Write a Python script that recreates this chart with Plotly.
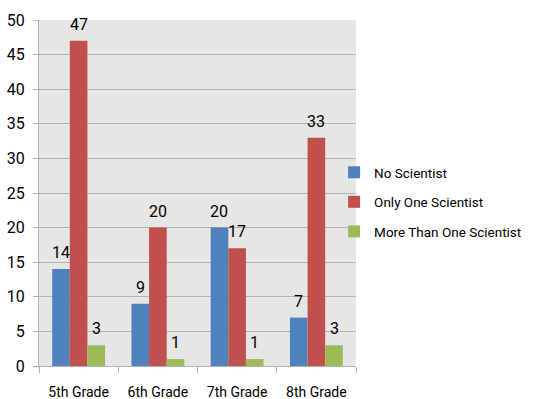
import plotly.graph_objects as go

grades = ["5th Grade", "6th Grade", "7th Grade", "8th Grade"]
no_scientist = [14, 9, 20, 7]
only_one = [47, 20, 17, 33]
more_than_one = [3, 1, 1, 3]

series = [
    ("No Scientist", no_scientist, "#4f81bd"),
    ("Only One Scientist", only_one, "#c0504d"),
    ("More Than One Scientist", more_than_one, "#9bbb59"),
]

FONT = "Roboto, Liberation Sans, sans-serif"

W, H = 538, 399
ML, MR, MT, MB = 39, 181, 20, 33
BARGAP = 0.333

plot_w = W - ML - MR
bar_px = plot_w / len(grades) * (1 - BARGAP) / len(series)

fig = go.Figure()
annotations = []
for i, (name, vals, color) in enumerate(series):
    fig.add_trace(go.Bar(
        x=grades, y=vals, name=name, legendgroup=name,
        marker=dict(color=color, line=dict(width=0)),
    ))
    # value labels centred over each bar of this series
    shift = (i - (len(series) - 1) / 2) * bar_px
    for g, v in zip(grades, vals):
        annotations.append(dict(
            x=g, y=v, xref="x", yref="y", text=str(v),
            showarrow=False, xanchor="center", yanchor="bottom",
            xshift=shift, yshift=5,
            font=dict(size=16, color="#000000", family=FONT),
        ))

fig.update_layout(
    width=W, height=H,
    margin=dict(l=ML, r=MR, t=MT, b=MB),
    paper_bgcolor="white",
    plot_bgcolor="#e6e6e6",
    barmode="group",
    bargap=BARGAP,
    bargroupgap=0,
    font=dict(family=FONT, size=14, color="#000000"),
    showlegend=True,
    legend=dict(
        x=0.928, y=0.474, xanchor="left", yanchor="middle",
        font=dict(size=13.5, family=FONT),
        itemwidth=30, tracegroupgap=9,
        bgcolor="rgba(0,0,0,0)",
    ),
    annotations=annotations,
)
fig.update_yaxes(
    range=[0, 50], dtick=5, automargin=False,
    showgrid=True, gridcolor="#b3b3b3", gridwidth=1,
    showline=True, linecolor="#b3b3b3", linewidth=1,
    ticks="outside", ticklen=5, tickcolor="#b3b3b3",
    ticklabelstandoff=5,
    tickfont=dict(size=16, family=FONT),
    zeroline=False,
)
fig.update_xaxes(
    automargin=False, tickangle=0,
    showline=True, linecolor="#b3b3b3", linewidth=1,
    ticks="outside", ticklen=6, tickcolor="#b3b3b3",
    tickson="boundaries", ticklabelstandoff=13,
    tickfont=dict(size=14, family=FONT),
)

fig.write_html("out.html")
